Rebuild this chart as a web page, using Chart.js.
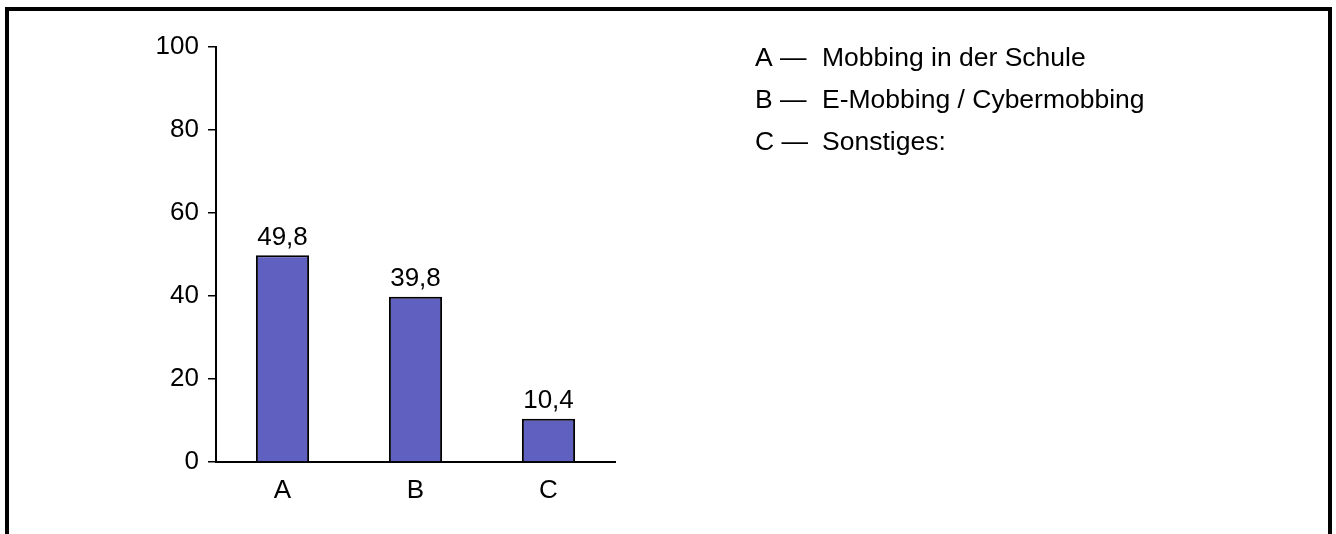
<!DOCTYPE html>
<html>
<head>
<meta charset="utf-8">
<script src="https://cdn.jsdelivr.net/npm/chart.js@4"></script>
<style>
    html, body { margin: 0; padding: 0; background: #fff; overflow: hidden; }
    #frame {
        position: absolute; left: 5px; top: 7px;
        width: 1319px; height: 600px;
        border: 4px solid #000; border-bottom: none;
    }
    #chart { position: absolute; left: 0; top: 0; }
</style>
</head>
<body>
<div id="frame"></div>
<canvas id="chart" width="1336" height="534"></canvas>
<script>
var categories = ['A', 'B', 'C'];
var values = [49.8, 39.8, 10.4];
var descriptions = ['Mobbing in der Schule', 'E-Mobbing / Cybermobbing', 'Sonstiges:'];
var yTicks = [0, 20, 40, 60, 80, 100];

var FONT = "'Liberation Sans', Arial, sans-serif";

// value labels over the bars + the A/B/C key on the right
var labelsPlugin = {
    id: 'labels',
    afterDatasetsDraw: function(chart) {
        var ctx = chart.ctx;
        var meta = chart.getDatasetMeta(0);
        ctx.save();
        ctx.fillStyle = '#000';
        ctx.font = '26px ' + FONT;
        ctx.textAlign = 'center';
        ctx.textBaseline = 'bottom';
        meta.data.forEach(function(bar, i) {
            ctx.fillText(values[i].toFixed(1).replace('.', ','), bar.x, bar.y - 5);
        });
        ctx.font = '26.5px ' + FONT;
        ctx.textAlign = 'left';
        ctx.textBaseline = 'middle';
        categories.forEach(function(c, i) {
            var y = 59 + i * 42;
            ctx.fillText(c + ' \u2014', 755, y);
            ctx.fillText(descriptions[i], 822, y);
        });
        ctx.restore();
    }
};

var ctx = document.getElementById('chart').getContext('2d');
var chart = new Chart(ctx, {
    type: 'bar',
    data: {
        labels: categories,
        datasets: [{
            data: values,
            backgroundColor: '#6060C0',
            borderColor: '#000',
            borderWidth: 2,
            barPercentage: 0.4,
            categoryPercentage: 1
        }]
    },
    options: {
        responsive: false,
        animation: false,
        layout: {
            padding: { left: 140, top: 47, right: 721, bottom: 0 }
        },
        plugins: {
            legend: { display: false },
            tooltip: { enabled: false },
            title: { display: false }
        },
        scales: {
            x: {
                grid: { display: false },
                border: { display: true, color: '#000', width: 2 },
                ticks: { color: '#000', font: { size: 26, family: FONT }, padding: 5 },
                afterFit: function(scale) { scale.height = 72; }
            },
            y: {
                min: 0,
                max: 100,
                afterBuildTicks: function(scale) {
                    scale.ticks = yTicks.map(function(v) { return { value: v }; });
                },
                grid: {
                    display: true,
                    drawOnChartArea: false,
                    drawTicks: true,
                    tickLength: 8,
                    color: '#000',
                    lineWidth: 1.5
                },
                border: { display: true, color: '#000', width: 2 },
                ticks: { color: '#000', font: { size: 26, family: FONT }, padding: 9 },
                afterFit: function(scale) { scale.width = 76; }
            }
        }
    },
    plugins: [labelsPlugin]
});
</script>
</body>
</html>
